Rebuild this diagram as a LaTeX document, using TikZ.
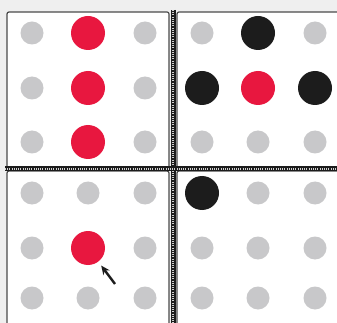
\documentclass[tikz,border=0pt]{standalone}
\usetikzlibrary{arrows.meta}
\definecolor{gridRed}{HTML}{E8173F}
\definecolor{gridInk}{HTML}{1C1C1C}
\definecolor{gridGray}{HTML}{C8C8CA}
\definecolor{gridBack}{HTML}{EFEFEF}
\definecolor{gridEdge}{HTML}{4A4A4A}
\tikzset{
  grid diagram/.style={
    x=1pt, y=-1pt,
    >={Stealth[length=9pt,width=8pt]},
    every node/.style={inner sep=0pt, outer sep=0pt}
  },
  grid panel/.style={fill=white, draw=gridEdge, line width=1.2pt,
    rounded corners=2pt},
  grid dot/.style={circle, fill=gridGray, minimum size=23pt},
  grid red/.style={circle, fill=gridRed, minimum size=34pt},
  grid black/.style={circle, fill=gridInk, minimum size=34pt},
  grid pointer/.style={->, draw=gridInk, line width=2.4pt, shorten >=5pt}
}
\newcommand{\GridSeam}[2]{%
  \draw[gridInk, line width=5pt] #1 -- #2;
  \draw[white!80!gridInk, line width=1.4pt, dash pattern=on 0.8pt off 1.4pt] #1 -- #2;
}

\begin{document}
\begin{tikzpicture}[grid diagram]
    \fill[gridBack] (0,0) rectangle (337,323);
    \useasboundingbox (0,0) rectangle (337,323);
    % the four panels
    \draw[grid panel] (7,12) rectangle (169,168);
    \draw[grid panel] (177,12) rectangle (345,168);
    \draw[grid panel] (7,171) rectangle (169,335);
    \draw[grid panel] (177,171) rectangle (345,335);
    \GridSeam{(173,10)}{(173,323)}
    \GridSeam{(5,169)}{(337,169)}
    % top left
    \foreach \x/\c in {32/1,145/3}
      \foreach \y/\r in {33/1,88/2,142/3}
        \node[grid dot] (tl-\r\c) at (\x,\y) {};
    \foreach \y/\r in {33/1,88/2,142/3}
      \node[grid red] (tl-\r2) at (88,\y) {};
    % top right
    \node[grid dot] (tr-11) at (202,33) {};
    \node[grid black] (tr-12) at (258,33) {};
    \node[grid dot] (tr-13) at (315,33) {};
    \node[grid black] (tr-21) at (202,88) {};
    \node[grid red] (tr-22) at (258,88) {};
    \node[grid black] (tr-23) at (315,88) {};
    \foreach \x/\c in {202/1,258/2,315/3}
      \node[grid dot] (tr-3\c) at (\x,142) {};
    % bottom left
    \foreach \x/\c in {32/1,88/2,145/3} {
      \node[grid dot] (bl-1\c) at (\x,193) {};
      \node[grid dot] (bl-3\c) at (\x,298) {};
    }
    \node[grid dot] (bl-21) at (32,248) {};
    \node[grid red] (bl-22) at (88,248) {};
    \node[grid dot] (bl-23) at (145,248) {};
    \coordinate (pointer) at (115,284);
    \draw[grid pointer] (pointer) -- (bl-22);
    % bottom right
    \node[grid black] (br-11) at (202,193) {};
    \node[grid dot] (br-12) at (258,193) {};
    \node[grid dot] (br-13) at (315,193) {};
    \foreach \x/\c in {202/1,258/2,315/3} {
      \node[grid dot] (br-2\c) at (\x,248) {};
      \node[grid dot] (br-3\c) at (\x,298) {};
    }
  \end{tikzpicture}
\end{document}
